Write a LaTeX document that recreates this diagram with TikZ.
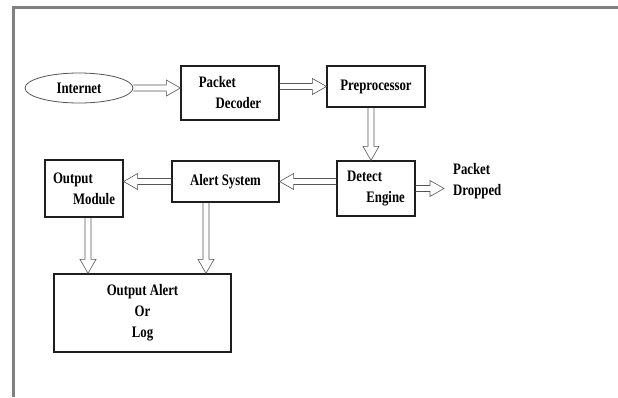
\documentclass[tikz,border=0pt]{standalone}
\usepackage{fontspec}
\setmainfont{Liberation Serif}[FakeStretch=0.8]
\usetikzlibrary{shapes.geometric,calc}
\definecolor{rimgray}{HTML}{808080}
\definecolor{boxline}{HTML}{1e1e1e}
\definecolor{arrline}{HTML}{555555}
\tikzset{
  box/.style={draw=boxline, line width=1.2pt, inner sep=0pt},
  oval/.style={ellipse, draw=arrline, line width=0.8pt, inner sep=0pt},
  hollow/.style={draw=arrline, line width=0.6pt, to path={
    ($(\tikztostart)!3pt!90:(\tikztotarget)$)
    -- ($(\tikztotarget)!14pt!(\tikztostart)!3pt!90:(\tikztotarget)$)
    -- ($(\tikztotarget)!14pt!(\tikztostart)!8pt!90:(\tikztotarget)$)
    -- (\tikztotarget)
    -- ($(\tikztotarget)!14pt!(\tikztostart)!8pt!-90:(\tikztotarget)$)
    -- ($(\tikztotarget)!14pt!(\tikztostart)!3pt!-90:(\tikztotarget)$)
    -- ($(\tikztostart)!3pt!-90:(\tikztotarget)$)}}
}
\begin{document}
\begin{tikzpicture}[x=1pt, y=-1pt, font=\fontsize{16}{21}\selectfont\bfseries]
\useasboundingbox (0,0) rectangle (618,397);
\draw[rimgray, line width=3pt] (12,7.5) -- (618,7.5);
\draw[rimgray, line width=3.5pt] (13.5,6) -- (13.5,397);

\node[oval, minimum width=108pt, minimum height=30pt] (inet) at (79,88) {Internet};
\node[box, minimum width=98pt, minimum height=54pt, align=left] (dec) at (230,93) {Packet\\\hspace*{1.05em}Decoder};
\node[box, minimum width=98pt, minimum height=41pt] (pre) at (376,86.5) {Preprocessor};
\node[box, minimum width=78pt, minimum height=55pt, align=left] (det) at (376,188.5) {Detect\\\hspace*{1.2em}Engine};
\node[box, minimum width=107pt, minimum height=41pt] (alert) at (225.5,181.5) {Alert System};
\node[box, minimum width=78pt, minimum height=57pt, align=left] (outmod) at (84,188.5) {Output\\\hspace*{1.25em}Module};
\node[box, minimum width=177pt, minimum height=78pt, align=center] (log) at (142.5,313) {Output Alert\\Or\\Log};
\node[anchor=west, align=left, inner sep=0pt] (drop) at (453,181) {Packet\\Dropped};

\coordinate (p1) at ([xshift=-5pt]pre.south);
\coordinate (p2) at ([xshift=4pt]outmod.south);
\coordinate (p3) at ([xshift=-19.5pt]alert.south);
\coordinate (p4) at ([xshift=-9pt]drop.west |- det.east);

\draw[hollow] (inet.east) to (inet.east -| dec.west);
\draw[hollow] (dec.east |- pre) to (pre.west);
\draw[hollow] (p1) to (p1 |- det.north);
\draw[hollow] (det.west |- alert) to (alert.east);
\draw[hollow] (alert.west) to (alert.west -| outmod.east);
\draw[hollow] (det.east) to (p4);
\draw[hollow] (p2) to (p2 |- log.north);
\draw[hollow] (p3) to (p3 |- log.north);
\end{tikzpicture}
\end{document}
